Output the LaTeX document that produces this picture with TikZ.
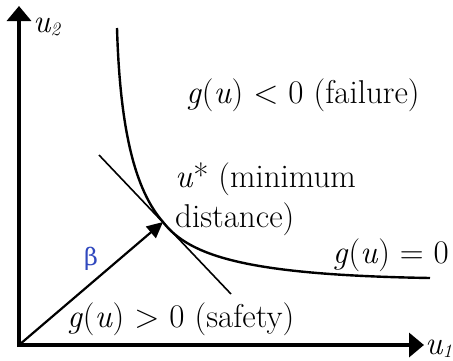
\documentclass[tikz,border=0pt]{standalone}
\usepackage{fontspec}
\newfontfamily\grk{DejaVu Serif}
\usetikzlibrary{arrows.meta}
\definecolor{betablue}{RGB}{48,72,190}
\tikzset{
  axis/.style={line width=3.5pt,-{Triangle[length=15pt,width=24pt]}},
  lbl/.style={inner sep=0pt,anchor=base west,font=\fontsize{33}{38}\selectfont},
  curve/.style={line width=2.4pt},
  tangent/.style={line width=1.6pt},
  betaarrow/.style={line width=2.2pt,-{Triangle[length=16pt,width=15pt]}}
}
\newcommand{\subs}[1]{\raisebox{-3pt}{\fontsize{19}{22}\selectfont\itshape #1}}
\begin{document}
\begin{tikzpicture}[x=1pt,y=-1pt]
\useasboundingbox (0,0) rectangle (453,360);
\coordinate (O) at (19,345);
\coordinate (Ytop) at (19,6);
\coordinate (Xend) at (424,345);
\coordinate (ustar) at (163,222);
\coordinate (t1) at (99,155);
\coordinate (t2) at (231,294);
\coordinate (c0) at (117,28);
\coordinate (c9) at (430,278);
\draw[axis] (19,347) -- (Ytop);
\draw[axis] (17,345) -- (Xend);
\node[lbl] (u2) at (33,32) {\itshape u\subs{2}};
\node[lbl] (u1) at (425,354) {\itshape u\subs{1}};
\draw[curve] (c0) .. controls (120,130) and (135,190) .. (ustar)
  .. controls (190,257) and (250,275) .. (c9);
\draw[tangent] (t1) -- (t2);
\draw[betaarrow] (O) -- (ustar);
\node[inner sep=0pt,text=betablue,font=\grk\fontsize{24}{28}\selectfont] (beta) at (91,259) {β};
\node[lbl] (fail) at (186,103) {\textit{g}(\textit{u}) \textless{} 0 (failure)};
\node[lbl] (us1) at (175,187) {\textit{u}* (minimum};
\node[lbl] (us2) at (175,227) {distance)};
\node[lbl,anchor=base east] (g0) at (449,263) {\textit{g}(\textit{u}) = 0};
\node[lbl] (safe) at (67,327) {\textit{g}(\textit{u}) \textgreater{} 0 (safety)};
\end{tikzpicture}
\end{document}
